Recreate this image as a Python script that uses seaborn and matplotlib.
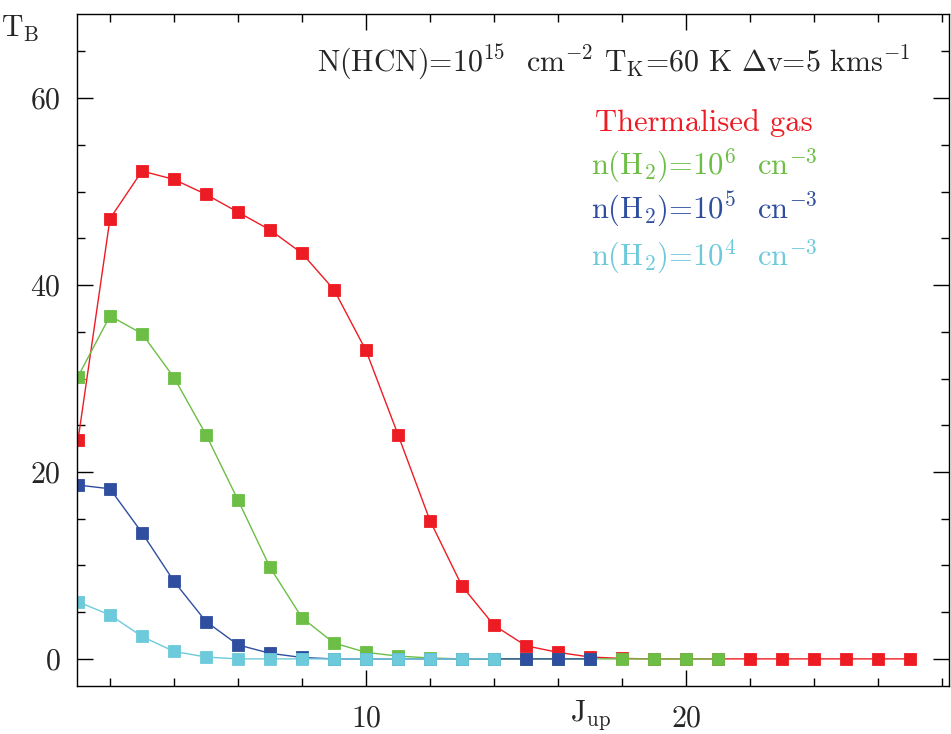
import matplotlib
matplotlib.use("Agg")
import matplotlib.pyplot as plt
import numpy as np
import pandas as pd
import seaborn as sns
from matplotlib.ticker import MultipleLocator

# ---------------- data ----------------
J_thermal = list(range(1, 28))
T_thermal = [23.4, 47.1, 52.2, 51.3, 49.7, 47.8, 45.9, 43.4, 39.5, 33.0,
             24.0, 14.8, 7.8, 3.6, 1.4, 0.7, 0.2, 0.05, 0, 0,
             0, 0, 0, 0, 0, 0, 0]
J_n6 = list(range(1, 22))
T_n6 = [30.2, 36.7, 34.8, 30.1, 24.0, 17.0, 9.8, 4.4, 1.7, 0.7,
        0.3, 0.1, 0, 0, 0, 0, 0, 0, 0, 0, 0]
J_n5 = list(range(1, 18))
T_n5 = [18.6, 18.2, 13.5, 8.3, 4.0, 1.5, 0.6, 0.15, 0, 0,
        0, 0, 0, 0, 0, 0, 0]
J_n4 = list(range(1, 15))
T_n4 = [6.1, 4.7, 2.4, 0.8, 0.2, 0, 0, 0, 0, 0, 0, 0, 0, 0]

labels = ["Thermalised gas",
          r"n(H$_2$)=10$^6$  cn$^{-3}$",
          r"n(H$_2$)=10$^5$  cn$^{-3}$",
          r"n(H$_2$)=10$^4$  cn$^{-3}$"]
colors = ["#ED1C24", "#6CBE45", "#2F4E9F", "#6DCADB"]
title_text = r"N(HCN)=10$^{15}$  cm$^{-2}$ T$_{\rm K}$=60 K $\Delta$v=5 kms$^{-1}$"

series = [(J_thermal, T_thermal), (J_n6, T_n6), (J_n5, T_n5), (J_n4, T_n4)]

# ---------------- style ----------------
sns.set_style("ticks")
plt.rcParams["font.family"] = ["cmr10", "DejaVu Serif"]
plt.rcParams["mathtext.fontset"] = "cm"
plt.rcParams["axes.formatter.use_mathtext"] = True

W, H = 951, 734
fig = plt.figure(figsize=(W / 100, H / 100), dpi=100)
L, R, T, B = 77, 949, 14, 686
ax = fig.add_axes([L / W, 1 - B / H, (R - L) / W, (B - T) / H])

for (jx, ty), c in zip(series, colors):
    df = pd.DataFrame({"J": jx, "T": ty})
    sns.lineplot(data=df, x="J", y="T", ax=ax, color=c, linewidth=1.0,
                 marker="s", markersize=8.6, markeredgewidth=0.6,
                 markeredgecolor=c, estimator=None, sort=True)

ax.set_xlim(0.969, 28.22)
ax.set_ylim(-2.9, 69.0)
ax.set_xlabel("")
ax.set_ylabel("")
ax.xaxis.set_major_locator(MultipleLocator(10))
ax.xaxis.set_minor_locator(MultipleLocator(2))
ax.yaxis.set_major_locator(MultipleLocator(20))
ax.yaxis.set_minor_locator(MultipleLocator(5))
ax.tick_params(which="both", direction="in", top=True, right=True,
               width=1.0, color="black", labelsize=21.5)
ax.tick_params(which="major", length=11.5)
ax.tick_params(which="minor", length=6.0)
ax.tick_params(axis="x", which="major", pad=13.5)
ax.tick_params(axis="y", which="major", pad=11.5)
for s in ax.spines.values():
    s.set_linewidth(1.0)
    s.set_color("black")

# ---------------- text ----------------
def px(x, y):
    return x / W, 1 - y / H

fig.text(*px(614, 71), title_text, ha="center", va="baseline", fontsize=21.5)
ybase = [131, 174, 218, 265]
xcen = [704, 704, 704, 704]
for lab, c, xb, yb in zip(labels, colors, xcen, ybase):
    fig.text(*px(xb, yb), lab, color=c, ha="center", va="baseline", fontsize=22)

fig.text(*px(1, 37), r"T$_{\rm B}$", ha="left", va="baseline", fontsize=21.5)
fig.text(*px(570, 721), r"J$_{\rm up}$", ha="left", va="baseline", fontsize=21.5)

fig.savefig("out.png", dpi=100)
